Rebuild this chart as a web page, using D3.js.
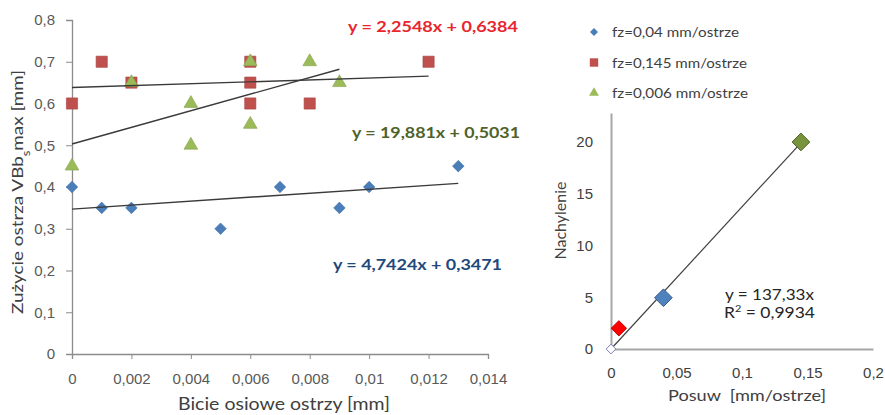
<!DOCTYPE html>
<html>
<head>
<meta charset="utf-8">
<script src="https://cdn.jsdelivr.net/npm/d3@7"></script>
<style>
  body { margin: 0; background: #fff; }
  svg { font-family: Lato, "Open Sans", sans-serif; }
</style>
</head>
<body>
<div id="chart"></div>
<script>
// Left chart data: wear vs axial runout
const blueX = [0, 0.001, 0.002, 0.005, 0.007, 0.009, 0.010, 0.013];
const blueY = [0.40, 0.35, 0.35, 0.30, 0.40, 0.35, 0.40, 0.45];
const redX = [0, 0.001, 0.002, 0.006, 0.006, 0.006, 0.008, 0.012];
const redY = [0.60, 0.70, 0.65, 0.70, 0.65, 0.60, 0.60, 0.70];
const greenX = [0, 0.002, 0.004, 0.004, 0.006, 0.006, 0.008, 0.009];
const greenY = [0.45, 0.65, 0.60, 0.50, 0.70, 0.55, 0.70, 0.65];
// trendlines: [slope, intercept, xEnd]
const blueFit = [4.7424, 0.3471, 0.013];
const redFit = [2.2548, 0.6384, 0.012];
const greenFit = [19.881, 0.5031, 0.009];
const leftXTicks = [0, 0.002, 0.004, 0.006, 0.008, 0.010, 0.012, 0.014];
const leftYTicks = [0, 0.1, 0.2, 0.3, 0.4, 0.5, 0.6, 0.7, 0.8];
const legendLabels = ["fz=0,04 mm/ostrze", "fz=0,145 mm/ostrze", "fz=0,006 mm/ostrze"];

// Right chart data: slope vs feed
const feedX = [0, 0.006, 0.04, 0.145];
const slopeY = [0, 2, 4.95, 20];
const rightFit = 137.33;
const rightXTicks = [0, 0.05, 0.1, 0.15, 0.2];
const rightYTicks = [0, 5, 10, 15, 20];

const width = 885, height = 415;
const fmt = d => String(+d.toFixed(4)).replace(".", ",");

const svg = d3.select("#chart").append("svg")
    .attr("width", width)
    .attr("height", height);

// helper for text stretched to the reference width
function label(xp, yp, txt, size, len, color, bold) {
    return svg.append("text")
        .attr("x", xp).attr("y", yp)
        .attr("fill", color)
        .attr("textLength", len)
        .attr("lengthAdjust", "spacingAndGlyphs")
        .style("font-size", size + "px")
        .style("font-weight", bold ? "bold" : "normal")
        .style("white-space", "pre")
        .text(txt);
}

// ---------- left chart ----------
const x = d3.scaleLinear().domain([0, 0.014]).range([72, 488]);
const y = d3.scaleLinear().domain([0, 0.8]).range([354, 20]);

const gx = svg.append("g")
    .attr("transform", `translate(0,${y(0)})`)
    .call(d3.axisBottom(x).tickValues(leftXTicks).tickFormat(fmt).tickSizeOuter(0).tickSize(5).tickPadding(14));
const gy = svg.append("g")
    .attr("transform", `translate(${x(0)},0)`)
    .call(d3.axisLeft(y).tickValues(leftYTicks).tickFormat(fmt).tickSizeOuter(0).tickSize(6).tickPadding(11));
[gx, gy].forEach(g => {
    g.select(".domain").attr("stroke", "#8c8c8c").attr("stroke-width", 1.3);
    g.selectAll(".tick line").attr("stroke", "#8c8c8c");
    g.selectAll(".tick text").attr("fill", "#595959").style("font-size", "15px");
});

const diamond = d3.symbol().type(d3.symbolDiamond2);
const square = d3.symbol().type(d3.symbolSquare2);
const triangle = d3.symbol().type(d3.symbolTriangle2);

function drawSeries(xs, ys, sym, size, fill) {
    svg.append("g").selectAll("path")
        .data(xs.map((v, i) => [v, ys[i]]))
        .join("path")
        .attr("transform", d => `translate(${x(d[0])},${y(d[1])})`)
        .attr("d", sym.size(size)())
        .attr("fill", fill)
        .attr("stroke", d3.color(fill).darker(0.4))
        .attr("stroke-width", 0.6);
}
drawSeries(blueX, blueY, diamond, 85, "#4a7ebb");
drawSeries(redX, redY, square, 160, "#c0504d");
drawSeries(greenX, greenY, triangle, 135, "#9bbb59");

[blueFit, redFit, greenFit].forEach(f => {
    svg.append("line")
        .attr("x1", x(0)).attr("y1", y(f[1]))
        .attr("x2", x(f[2])).attr("y2", y(f[1] + f[0] * f[2]))
        .attr("stroke", "#3a3a3a")
        .attr("stroke-width", 1.4);
});

label(348, 32, "y = 2,2548x + 0,6384", 16, 170, "#e8262d", true);
label(352, 138, "y = 19,881x + 0,5031", 16, 168, "#4f6228", true);
label(333, 270, "y = 4,7424x + 0,3471", 16, 169, "#1f497d", true);

const yl = svg.append("text")
    .attr("transform", `translate(23,${(y(0) + y(0.8)) / 2 + 5}) rotate(-90)`)
    .attr("text-anchor", "middle")
    .attr("fill", "#404040")
    .attr("textLength", 244)
    .attr("lengthAdjust", "spacingAndGlyphs")
    .style("font-size", "16px");
yl.append("tspan").text("Zużycie ostrza VBb");
yl.append("tspan").attr("baseline-shift", "sub").style("font-size", "11px").text("s");
yl.append("tspan").text("max [mm]");

label(178, 410, "Bicie osiowe ostrzy [mm]", 18, 212, "#404040", false);

// ---------- legend ----------
const legendSyms = [[diamond, 40, "#4a7ebb"], [square, 90, "#c0504d"], [triangle, 70, "#9bbb59"]];
const legendLens = [127, 135, 136];
legendLabels.forEach((t, i) => {
    const ly = 32 + i * 30.5;
    svg.append("path")
        .attr("transform", `translate(594,${ly})`)
        .attr("d", legendSyms[i][0].size(legendSyms[i][1])())
        .attr("fill", legendSyms[i][2]);
    label(612, ly + 5, t, 14, legendLens[i], "#404040", false);
});

// ---------- right chart ----------
const x2 = d3.scaleLinear().domain([0, 0.2]).range([611, 873]);
const y2 = d3.scaleLinear().domain([0, 22.8]).range([349, 113]);

const gx2 = svg.append("g")
    .attr("transform", `translate(0,${y2(0)})`)
    .call(d3.axisBottom(x2).tickValues(rightXTicks).tickFormat(fmt).tickSizeOuter(0).tickSize(0).tickPadding(18));
const gy2 = svg.append("g")
    .attr("transform", `translate(${x2(0)},0)`)
    .call(d3.axisLeft(y2).tickValues(rightYTicks).tickFormat(fmt).tickSizeOuter(0).tickSize(0).tickPadding(18));
[gx2, gy2].forEach(g => {
    g.select(".domain").attr("stroke", "#a6a6a6").attr("stroke-width", 2);
    g.selectAll(".tick text").attr("fill", "#404040").style("font-size", "15px");
});

svg.append("line")
    .attr("x1", x2(0)).attr("y1", y2(0))
    .attr("x2", x2(0.145)).attr("y2", y2(rightFit * 0.145))
    .attr("stroke", "#404040")
    .attr("stroke-width", 1.2);

const rightStyle = [
    ["#ffffff", 60, "#7f7fbf"],
    ["#ff0000", 150, "#c00000"],
    ["#4f81bd", 200, "#385d8a"],
    ["#77933c", 200, "#4f6228"]
];
svg.append("g").selectAll("path")
    .data(feedX.map((v, i) => [v, slopeY[i], i]))
    .join("path")
    .attr("transform", d => `translate(${x2(d[0])},${y2(d[1])})`)
    .attr("d", d => diamond.size(rightStyle[d[2]][1])())
    .attr("fill", d => rightStyle[d[2]][0])
    .attr("stroke", d => rightStyle[d[2]][2])
    .attr("stroke-width", 1);

label(725, 300, "y = 137,33x", 16, 89, "#262626", false);
const r2 = svg.append("text")
    .attr("x", 724).attr("y", 318)
    .attr("fill", "#262626")
    .attr("textLength", 91)
    .attr("lengthAdjust", "spacingAndGlyphs")
    .style("font-size", "16px");
r2.append("tspan").text("R");
r2.append("tspan").attr("baseline-shift", "super").style("font-size", "10px").text("2");
r2.append("tspan").text(" = 0,9934");

svg.append("text")
    .attr("transform", `translate(566,${(y2(0) + y2(20)) / 2 - 25}) rotate(-90)`)
    .attr("text-anchor", "middle")
    .attr("fill", "#404040")
    .style("font-size", "16px")
    .text("Nachylenie");

label(668, 401, "Posuw  [mm/ostrze]", 16, 158, "#404040", false);
</script>
</body>
</html>
